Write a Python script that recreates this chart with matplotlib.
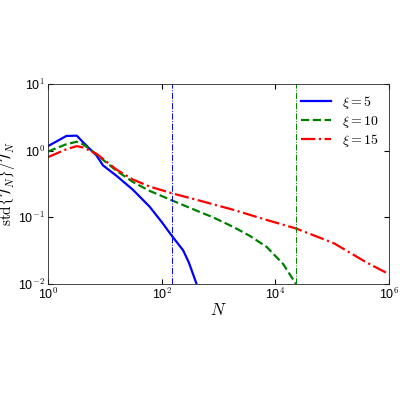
import matplotlib
matplotlib.use('Agg')
import matplotlib.pyplot as plt

plt.rcParams['font.family'] = ['Liberation Sans', 'DejaVu Sans']
plt.rcParams['mathtext.fontset'] = 'cm'

n5 = [1, 2.1, 3.2, 4.1, 5.5, 7.1, 9.3, 16, 31, 61, 100, 150, 238, 300, 410]
y5 = [1.17, 1.66, 1.68, 1.35, 1.05, 0.85, 0.6, 0.42, 0.26, 0.145, 0.085, 0.053, 0.032, 0.021, 0.01]
n10 = [1, 2.1, 3.2, 4.1, 5.5, 7.1, 16, 31, 61, 150, 470, 800, 1800, 3500, 7000, 13600, 23000]
y10 = [0.97, 1.25, 1.36, 1.25, 1.05, 0.88, 0.5, 0.34, 0.25, 0.18, 0.12, 0.1, 0.072, 0.053, 0.036, 0.02, 0.01]
n15 = [1, 2.1, 3.2, 4.1, 5.5, 7.1, 16, 31, 61, 150, 500, 1800, 6000, 23000, 1.06e5, 4e5, 1e6]
y15 = [0.8, 1.05, 1.17, 1.12, 1.0, 0.9, 0.52, 0.37, 0.29, 0.23, 0.175, 0.13, 0.095, 0.068, 0.041, 0.021, 0.014]
vlines = [150, 23000]

fig = plt.figure(figsize=(4, 4), dpi=100)
ax = fig.add_axes([0.12, 0.29, 0.853, 0.50])
ax.plot(n5, y5, '-', color='#0000ff', lw=1.6, label=r'$\xi = 5$')
ax.plot(n10, y10, '--', color='#008000', lw=1.6, label=r'$\xi = 10$')
ax.plot(n15, y15, '-.', color='#ff0000', lw=1.6, label=r'$\xi = 15$')
ax.axvline(vlines[0], color='#0000ff', ls='-.', lw=0.7)
ax.axvline(vlines[1], color='#008000', ls='-.', lw=0.7)
ax.set_xscale('log'); ax.set_yscale('log')
ax.set_xlim(1, 1e6); ax.set_ylim(1e-2, 10)
ax.set_xticks([1, 1e2, 1e4, 1e6])
ax.set_xticklabels(['10$^{0}$', '10$^{2}$', '10$^{4}$', '10$^{6}$'])
ax.set_yticks([1e-2, 1e-1, 1, 10])
ax.set_yticklabels(['10$^{-2}$', '10$^{-1}$', '10$^{0}$', '10$^{1}$'])
ax.minorticks_off()
ax.tick_params(direction='in', top=True, right=True, labelsize=9, pad=2)
for s in ax.spines.values():
    s.set_color('#262626'); s.set_linewidth(0.6)
ax.set_xlabel(r'$N$', fontsize=12, labelpad=0)
ax.set_ylabel(r'$\mathrm{std}\{\mathcal{T}_N\}/\overline{\mathcal{T}_N}$', fontsize=11, labelpad=0)
ax.legend(loc='upper right', frameon=False, fontsize=10, handlelength=2.2, borderaxespad=0.3, labelspacing=0.2)
fig.savefig('out.png', dpi=100)
